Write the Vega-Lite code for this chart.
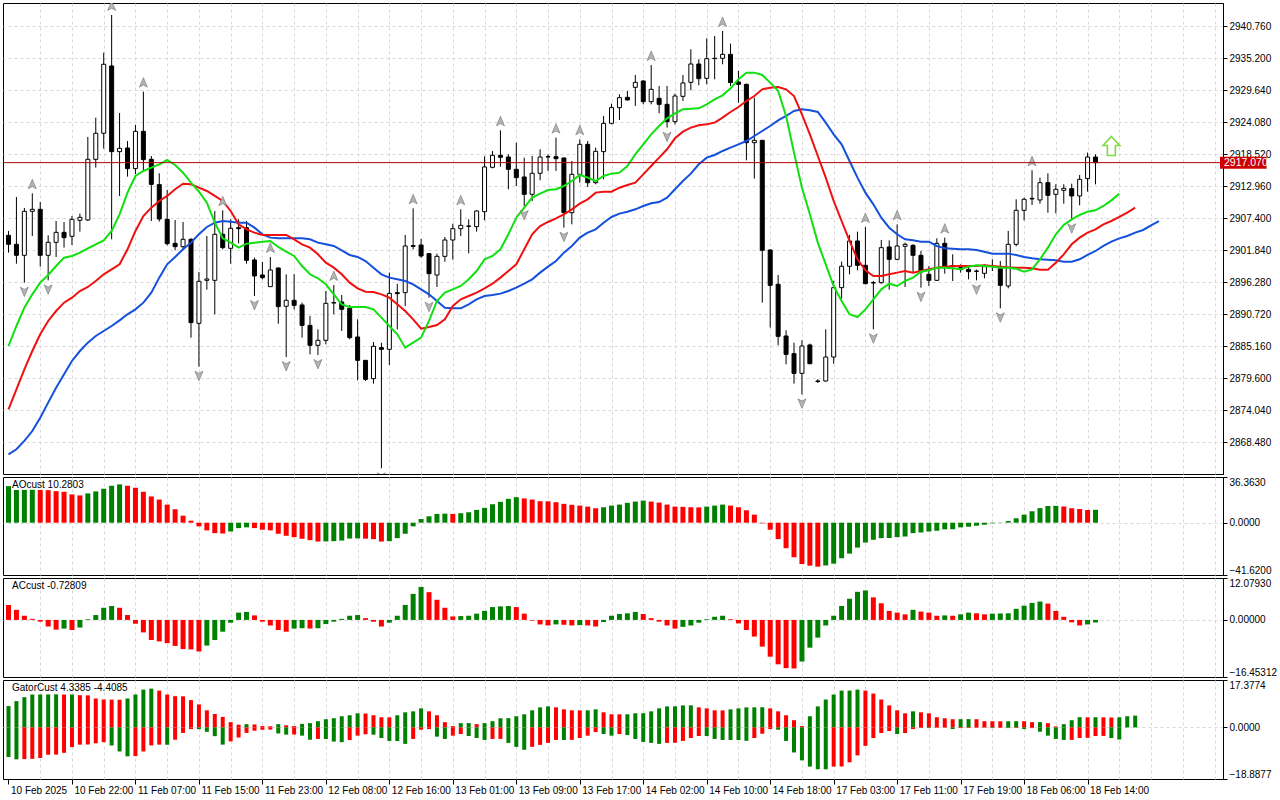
{
"$schema": "https://vega.github.io/schema/vega-lite/v6.json",
"background": "white",
"padding": {"left": 2, "top": 2, "right": 0, "bottom": 0},
"spacing": 3,
"bounds": "flush",
"resolve": {"scale": {"color": "independent"}},
"config": {
  "view": {"stroke": "black", "strokeWidth": 1},
  "axis": {"title": null, "labelFont": "Liberation Sans", "labelFontSize": 10, "labelColor": "#000000", "gridColor": "#d8d8d8", "gridDash": [3, 3], "gridWidth": 1, "domainColor": "#000000", "tickColor": "#000000", "tickSize": 4, "labelPadding": 2, "labelOverlap": false, "tickCount": 100}
},
"datasets": {
"candles": [
{"i":0,"o":2904.44,"c":2902.88,"h":2905.20,"l":2901.43},
{"i":1,"o":2902.88,"c":2900.97,"h":2911.10,"l":2899.52},
{"i":2,"o":2900.97,"c":2908.61,"h":2909.19,"l":2896.22,"f":"d"},
{"i":3,"o":2908.61,"c":2908.96,"h":2911.74,"l":2904.33,"f":"u"},
{"i":4,"o":2908.96,"c":2900.97,"h":2910.23,"l":2899.00},
{"i":5,"o":2900.97,"c":2903.23,"h":2904.44,"l":2896.62,"f":"d"},
{"i":6,"o":2903.23,"c":2904.96,"h":2906.93,"l":2900.68},
{"i":7,"o":2904.96,"c":2904.04,"h":2906.76,"l":2902.30},
{"i":8,"o":2904.27,"c":2907.22,"h":2907.80,"l":2902.76},
{"i":9,"o":2907.05,"c":2907.57,"h":2908.21,"l":2905.08},
{"i":10,"o":2907.11,"c":2917.65,"h":2921.53,"l":2906.93},
{"i":11,"o":2917.65,"c":2922.17,"h":2924.89,"l":2916.20},
{"i":12,"o":2922.17,"c":2934.16,"h":2936.18,"l":2919.50},
{"i":13,"o":2933.87,"c":2918.98,"h":2942.73,"l":2903.75,"f":"u"},
{"i":14,"o":2918.98,"c":2919.56,"h":2925.70,"l":2911.28},
{"i":15,"o":2919.62,"c":2916.03,"h":2920.83,"l":2914.64},
{"i":16,"o":2916.03,"c":2922.51,"h":2923.61,"l":2915.10},
{"i":17,"o":2922.51,"c":2917.59,"h":2929.41,"l":2915.62,"f":"u"},
{"i":18,"o":2917.65,"c":2913.30,"h":2918.23,"l":2906.93},
{"i":19,"o":2913.25,"c":2907.28,"h":2915.22,"l":2906.82},
{"i":20,"o":2907.22,"c":2902.99,"h":2912.32,"l":2902.70},
{"i":21,"o":2903.05,"c":2902.47,"h":2907.11,"l":2901.84},
{"i":22,"o":2902.47,"c":2903.75,"h":2906.76,"l":2902.01},
{"i":23,"o":2903.75,"c":2889.27,"h":2903.92,"l":2886.66},
{"i":24,"o":2889.15,"c":2896.45,"h":2898.07,"l":2881.62,"f":"d"},
{"i":25,"o":2896.62,"c":2896.85,"h":2904.33,"l":2895.00},
{"i":26,"o":2896.62,"c":2904.62,"h":2908.67,"l":2890.72},
{"i":27,"o":2904.62,"c":2902.30,"h":2908.79,"l":2902.01,"f":"u"},
{"i":28,"o":2902.18,"c":2905.66,"h":2907.22,"l":2899.52},
{"i":29,"o":2905.77,"c":2905.60,"h":2907.22,"l":2903.05},
{"i":30,"o":2905.77,"c":2900.10,"h":2906.93,"l":2899.52},
{"i":31,"o":2900.16,"c":2897.38,"h":2900.56,"l":2893.90,"f":"d"},
{"i":32,"o":2897.55,"c":2897.09,"h":2899.81,"l":2896.80},
{"i":33,"o":2895.52,"c":2898.42,"h":2900.68,"l":2895.52,"f":"u"},
{"i":34,"o":2898.77,"c":2892.05,"h":2898.82,"l":2889.09},
{"i":35,"o":2892.11,"c":2893.15,"h":2897.67,"l":2883.30,"f":"d"},
{"i":36,"o":2893.15,"c":2892.28,"h":2897.67,"l":2891.58},
{"i":37,"o":2892.34,"c":2888.80,"h":2892.74,"l":2886.66},
{"i":38,"o":2888.80,"c":2885.33,"h":2890.43,"l":2883.76},
{"i":39,"o":2885.33,"c":2886.20,"h":2888.11,"l":2883.65,"f":"d"},
{"i":40,"o":2886.20,"c":2892.63,"h":2894.77,"l":2885.50},
{"i":41,"o":2892.74,"c":2892.68,"h":2895.81,"l":2890.72,"f":"u"},
{"i":42,"o":2892.86,"c":2891.58,"h":2894.07,"l":2887.82},
{"i":43,"o":2891.76,"c":2886.66,"h":2892.34,"l":2886.37},
{"i":44,"o":2886.78,"c":2882.72,"h":2889.85,"l":2879.25},
{"i":45,"o":2882.72,"c":2879.42,"h":2882.78,"l":2879.13},
{"i":46,"o":2879.54,"c":2885.16,"h":2885.91,"l":2878.67},
{"i":47,"o":2884.92,"c":2884.63,"h":2885.79,"l":2863.96,"f":"d"},
{"i":48,"o":2884.63,"c":2894.36,"h":2897.96,"l":2881.91},
{"i":49,"o":2894.48,"c":2894.31,"h":2896.04,"l":2888.11},
{"i":50,"o":2894.48,"c":2902.59,"h":2904.50,"l":2892.16},
{"i":51,"o":2902.65,"c":2902.53,"h":2909.13,"l":2902.01,"f":"u"},
{"i":52,"o":2902.76,"c":2900.85,"h":2903.81,"l":2900.56},
{"i":53,"o":2901.26,"c":2897.78,"h":2901.31,"l":2893.61,"f":"d"},
{"i":54,"o":2897.55,"c":2900.79,"h":2901.26,"l":2895.46},
{"i":55,"o":2900.79,"c":2903.63,"h":2904.15,"l":2899.87},
{"i":56,"o":2903.63,"c":2905.60,"h":2906.47,"l":2900.21},
{"i":57,"o":2905.60,"c":2906.18,"h":2908.96,"l":2904.33,"f":"u"},
{"i":58,"o":2906.06,"c":2906.01,"h":2907.22,"l":2901.31},
{"i":59,"o":2905.95,"c":2908.67,"h":2908.79,"l":2905.08},
{"i":60,"o":2908.55,"c":2916.32,"h":2918.17,"l":2907.05},
{"i":61,"o":2916.26,"c":2918.34,"h":2919.10,"l":2916.08},
{"i":62,"o":2918.34,"c":2918.00,"h":2922.69,"l":2916.37,"f":"u"},
{"i":63,"o":2918.05,"c":2915.91,"h":2918.52,"l":2912.44},
{"i":64,"o":2915.91,"c":2914.46,"h":2920.54,"l":2913.01},
{"i":65,"o":2914.58,"c":2911.57,"h":2917.94,"l":2909.54,"f":"d"},
{"i":66,"o":2911.57,"c":2915.22,"h":2918.23,"l":2910.41},
{"i":67,"o":2915.22,"c":2918.05,"h":2919.39,"l":2914.00},
{"i":68,"o":2918.11,"c":2918.05,"h":2918.52,"l":2915.62},
{"i":69,"o":2918.11,"c":2917.76,"h":2921.41,"l":2915.62,"f":"u"},
{"i":70,"o":2917.88,"c":2908.38,"h":2917.94,"l":2905.77,"f":"d"},
{"i":71,"o":2908.38,"c":2915.04,"h":2917.36,"l":2906.35},
{"i":72,"o":2915.04,"c":2920.25,"h":2921.12,"l":2913.59,"f":"u"},
{"i":73,"o":2920.25,"c":2913.59,"h":2920.83,"l":2912.84},
{"i":74,"o":2913.59,"c":2919.04,"h":2919.68,"l":2913.30},
{"i":75,"o":2918.98,"c":2923.90,"h":2925.18,"l":2914.17},
{"i":76,"o":2923.90,"c":2926.63,"h":2927.32,"l":2923.73},
{"i":77,"o":2926.63,"c":2928.36,"h":2928.94,"l":2924.48},
{"i":78,"o":2928.42,"c":2927.96,"h":2929.52,"l":2927.90},
{"i":79,"o":2930.16,"c":2931.03,"h":2932.30,"l":2926.92},
{"i":80,"o":2931.26,"c":2927.67,"h":2931.38,"l":2927.20},
{"i":81,"o":2927.67,"c":2929.81,"h":2934.04,"l":2927.20,"f":"u"},
{"i":82,"o":2928.25,"c":2927.20,"h":2930.39,"l":2925.64},
{"i":83,"o":2927.20,"c":2924.19,"h":2930.39,"l":2923.15,"f":"d"},
{"i":84,"o":2924.19,"c":2928.65,"h":2929.06,"l":2923.73},
{"i":85,"o":2928.59,"c":2930.91,"h":2932.30,"l":2927.78},
{"i":86,"o":2931.03,"c":2934.21,"h":2936.76,"l":2929.64},
{"i":87,"o":2934.21,"c":2931.66,"h":2935.02,"l":2930.51},
{"i":88,"o":2931.72,"c":2935.14,"h":2938.67,"l":2930.68},
{"i":89,"o":2935.20,"c":2935.14,"h":2939.08,"l":2931.55},
{"i":90,"o":2935.20,"c":2935.89,"h":2939.95,"l":2934.16,"f":"u"},
{"i":91,"o":2935.89,"c":2930.97,"h":2937.75,"l":2930.39},
{"i":92,"o":2931.09,"c":2930.68,"h":2933.00,"l":2927.49},
{"i":93,"o":2930.68,"c":2920.54,"h":2930.80,"l":2917.47},
{"i":94,"o":2920.54,"c":2920.95,"h":2928.36,"l":2914.29},
{"i":95,"o":2920.95,"c":2901.84,"h":2921.01,"l":2892.74},
{"i":96,"o":2901.89,"c":2895.75,"h":2902.01,"l":2888.40},
{"i":97,"o":2895.93,"c":2886.89,"h":2897.55,"l":2885.33},
{"i":98,"o":2886.95,"c":2883.76,"h":2887.94,"l":2882.03},
{"i":99,"o":2883.88,"c":2880.46,"h":2885.79,"l":2878.67},
{"i":100,"o":2880.46,"c":2885.21,"h":2886.20,"l":2876.81,"f":"d"},
{"i":101,"o":2885.39,"c":2882.14,"h":2885.62,"l":2882.03},
{"i":102,"o":2879.13,"c":2879.07,"h":2879.42,"l":2878.78},
{"i":103,"o":2879.13,"c":2883.30,"h":2888.11,"l":2879.02},
{"i":104,"o":2883.30,"c":2895.35,"h":2896.51,"l":2882.14},
{"i":105,"o":2895.35,"c":2899.06,"h":2899.87,"l":2893.44},
{"i":106,"o":2899.06,"c":2903.46,"h":2904.50,"l":2897.67},
{"i":107,"o":2903.46,"c":2899.23,"h":2905.08,"l":2898.36},
{"i":108,"o":2899.23,"c":2896.04,"h":2905.89,"l":2895.93,"f":"u"},
{"i":109,"o":2896.22,"c":2896.16,"h":2896.51,"l":2888.11,"f":"d"},
{"i":110,"o":2896.22,"c":2902.30,"h":2903.63,"l":2896.04},
{"i":111,"o":2902.42,"c":2900.27,"h":2903.57,"l":2895.00},
{"i":112,"o":2900.27,"c":2902.59,"h":2906.35,"l":2900.10,"f":"u"},
{"i":113,"o":2902.53,"c":2902.88,"h":2903.17,"l":2895.46},
{"i":114,"o":2902.71,"c":2900.97,"h":2902.88,"l":2897.96},
{"i":115,"o":2900.97,"c":2898.07,"h":2901.72,"l":2895.35,"f":"d"},
{"i":116,"o":2897.67,"c":2896.62,"h":2899.11,"l":2895.64},
{"i":117,"o":2896.62,"c":2903.05,"h":2903.92,"l":2896.51},
{"i":118,"o":2903.05,"c":2899.11,"h":2904.04,"l":2897.78,"f":"u"},
{"i":119,"o":2899.17,"c":2899.06,"h":2901.14,"l":2896.51},
{"i":120,"o":2898.82,"c":2898.48,"h":2899.40,"l":2897.96},
{"i":121,"o":2898.53,"c":2898.13,"h":2899.11,"l":2896.80},
{"i":122,"o":2898.24,"c":2898.19,"h":2898.48,"l":2896.62,"f":"d"},
{"i":123,"o":2897.84,"c":2899.00,"h":2899.40,"l":2896.97},
{"i":124,"o":2899.11,"c":2899.06,"h":2900.27,"l":2898.24},
{"i":125,"o":2898.65,"c":2895.75,"h":2899.98,"l":2891.76,"f":"d"},
{"i":126,"o":2895.64,"c":2902.88,"h":2905.20,"l":2895.23},
{"i":127,"o":2902.88,"c":2908.79,"h":2910.70,"l":2902.53},
{"i":128,"o":2908.79,"c":2910.70,"h":2910.99,"l":2907.05},
{"i":129,"o":2910.87,"c":2910.76,"h":2915.74,"l":2909.71,"f":"u"},
{"i":130,"o":2910.58,"c":2913.59,"h":2914.46,"l":2909.94},
{"i":131,"o":2913.59,"c":2911.39,"h":2915.22,"l":2908.38},
{"i":132,"o":2911.57,"c":2912.44,"h":2913.30,"l":2908.26},
{"i":133,"o":2912.26,"c":2912.61,"h":2913.30,"l":2909.94},
{"i":134,"o":2912.55,"c":2911.28,"h":2913.42,"l":2907.22,"f":"d"},
{"i":135,"o":2911.28,"c":2914.17,"h":2914.93,"l":2909.66},
{"i":136,"o":2914.29,"c":2918.05,"h":2918.81,"l":2912.03},
{"i":137,"o":2918.05,"c":2917.07,"h":2918.52,"l":2913.30}
],
"alligator": [
{"i":0,"jaw":2866.39,"teeth":2874.21,"lips":2885.21},
{"i":1,"jaw":2867.26,"teeth":2877.68,"lips":2888.69},
{"i":2,"jaw":2868.71,"teeth":2881.16,"lips":2891.87},
{"i":3,"jaw":2870.44,"teeth":2884.34,"lips":2894.19},
{"i":4,"jaw":2872.76,"teeth":2887.24,"lips":2896.22},
{"i":5,"jaw":2875.37,"teeth":2889.56,"lips":2897.55},
{"i":6,"jaw":2877.97,"teeth":2891.29,"lips":2899.11},
{"i":7,"jaw":2880.29,"teeth":2892.74,"lips":2900.56},
{"i":8,"jaw":2882.61,"teeth":2893.61,"lips":2900.85},
{"i":9,"jaw":2884.34,"teeth":2894.77,"lips":2901.43},
{"i":10,"jaw":2885.79,"teeth":2895.46,"lips":2902.18},
{"i":11,"jaw":2886.95,"teeth":2896.51,"lips":2902.88},
{"i":12,"jaw":2887.82,"teeth":2897.67,"lips":2903.57},
{"i":13,"jaw":2888.69,"teeth":2898.53,"lips":2905.20},
{"i":14,"jaw":2889.67,"teeth":2899.40,"lips":2908.09},
{"i":15,"jaw":2890.72,"teeth":2902.01,"lips":2911.86},
{"i":16,"jaw":2891.58,"teeth":2905.20,"lips":2914.75},
{"i":17,"jaw":2892.74,"teeth":2907.80,"lips":2915.62},
{"i":18,"jaw":2894.48,"teeth":2909.25,"lips":2916.20},
{"i":19,"jaw":2897.09,"teeth":2910.41,"lips":2916.78},
{"i":20,"jaw":2899.40,"teeth":2911.28,"lips":2917.53},
{"i":21,"jaw":2900.68,"teeth":2912.44,"lips":2916.66},
{"i":22,"jaw":2902.01,"teeth":2913.42,"lips":2915.33},
{"i":23,"jaw":2903.17,"teeth":2913.30,"lips":2913.59},
{"i":24,"jaw":2904.62,"teeth":2912.72,"lips":2912.03},
{"i":25,"jaw":2905.89,"teeth":2912.15,"lips":2910.12},
{"i":26,"jaw":2906.64,"teeth":2911.28,"lips":2906.64},
{"i":27,"jaw":2906.93,"teeth":2910.41,"lips":2903.92},
{"i":28,"jaw":2906.82,"teeth":2908.67,"lips":2903.17},
{"i":29,"jaw":2906.64,"teeth":2906.35,"lips":2902.30},
{"i":30,"jaw":2906.64,"teeth":2905.48,"lips":2902.99},
{"i":31,"jaw":2905.77,"teeth":2904.91,"lips":2903.17},
{"i":32,"jaw":2904.62,"teeth":2904.50,"lips":2903.34},
{"i":33,"jaw":2904.04,"teeth":2904.50,"lips":2903.46},
{"i":34,"jaw":2903.92,"teeth":2904.50,"lips":2902.42},
{"i":35,"jaw":2903.92,"teeth":2904.50,"lips":2901.60},
{"i":36,"jaw":2903.92,"teeth":2903.75,"lips":2900.85},
{"i":37,"jaw":2903.92,"teeth":2902.88,"lips":2899.11},
{"i":38,"jaw":2903.75,"teeth":2902.30,"lips":2897.67},
{"i":39,"jaw":2903.17,"teeth":2901.14,"lips":2896.97},
{"i":40,"jaw":2902.88,"teeth":2899.69,"lips":2895.93},
{"i":41,"jaw":2902.59,"teeth":2898.82,"lips":2894.19},
{"i":42,"jaw":2901.84,"teeth":2897.67,"lips":2892.45},
{"i":43,"jaw":2901.03,"teeth":2896.22,"lips":2891.99},
{"i":44,"jaw":2900.68,"teeth":2895.23,"lips":2891.99},
{"i":45,"jaw":2899.98,"teeth":2894.65,"lips":2891.99},
{"i":46,"jaw":2898.82,"teeth":2894.60,"lips":2891.58},
{"i":47,"jaw":2897.67,"teeth":2894.19,"lips":2890.14},
{"i":48,"jaw":2897.09,"teeth":2893.61,"lips":2888.69},
{"i":49,"jaw":2896.80,"teeth":2892.45,"lips":2887.24},
{"i":50,"jaw":2896.51,"teeth":2891.29,"lips":2884.92},
{"i":51,"jaw":2895.93,"teeth":2889.85,"lips":2885.79},
{"i":52,"jaw":2895.06,"teeth":2888.22,"lips":2886.66},
{"i":53,"jaw":2894.19,"teeth":2888.51,"lips":2889.56},
{"i":54,"jaw":2893.03,"teeth":2888.86,"lips":2893.03},
{"i":55,"jaw":2891.87,"teeth":2889.85,"lips":2894.48},
{"i":56,"jaw":2891.76,"teeth":2892.16,"lips":2895.06},
{"i":57,"jaw":2891.76,"teeth":2893.32,"lips":2895.64},
{"i":58,"jaw":2892.45,"teeth":2893.90,"lips":2896.80},
{"i":59,"jaw":2893.32,"teeth":2894.48,"lips":2898.24},
{"i":60,"jaw":2893.90,"teeth":2895.23,"lips":2900.27},
{"i":61,"jaw":2894.07,"teeth":2896.04,"lips":2900.85},
{"i":62,"jaw":2894.31,"teeth":2897.09,"lips":2902.01},
{"i":63,"jaw":2894.77,"teeth":2898.24,"lips":2904.62},
{"i":64,"jaw":2895.35,"teeth":2899.40,"lips":2907.51},
{"i":65,"jaw":2896.04,"teeth":2902.01,"lips":2909.25},
{"i":66,"jaw":2896.80,"teeth":2904.62,"lips":2910.99},
{"i":67,"jaw":2897.96,"teeth":2906.06,"lips":2911.68},
{"i":68,"jaw":2899.00,"teeth":2906.76,"lips":2912.32},
{"i":69,"jaw":2899.98,"teeth":2907.40,"lips":2912.44},
{"i":70,"jaw":2901.43,"teeth":2908.09,"lips":2913.01},
{"i":71,"jaw":2902.59,"teeth":2908.96,"lips":2913.88},
{"i":72,"jaw":2904.04,"teeth":2909.94,"lips":2914.93},
{"i":73,"jaw":2904.91,"teeth":2910.70,"lips":2914.46},
{"i":74,"jaw":2905.48,"teeth":2911.86,"lips":2913.88},
{"i":75,"jaw":2906.64,"teeth":2912.03,"lips":2914.75},
{"i":76,"jaw":2907.63,"teeth":2912.03,"lips":2915.16},
{"i":77,"jaw":2908.21,"teeth":2912.72,"lips":2915.33},
{"i":78,"jaw":2908.55,"teeth":2913.19,"lips":2916.49},
{"i":79,"jaw":2908.96,"teeth":2913.59,"lips":2918.52},
{"i":80,"jaw":2909.54,"teeth":2915.04,"lips":2920.25},
{"i":81,"jaw":2910.00,"teeth":2916.49,"lips":2921.99},
{"i":82,"jaw":2910.23,"teeth":2917.94,"lips":2923.44},
{"i":83,"jaw":2910.99,"teeth":2919.39,"lips":2924.77},
{"i":84,"jaw":2912.44,"teeth":2921.30,"lips":2925.64},
{"i":85,"jaw":2913.88,"teeth":2922.46,"lips":2926.34},
{"i":86,"jaw":2915.16,"teeth":2923.15,"lips":2926.45},
{"i":87,"jaw":2916.78,"teeth":2923.56,"lips":2926.51},
{"i":88,"jaw":2917.94,"teeth":2923.73,"lips":2927.20},
{"i":89,"jaw":2918.40,"teeth":2924.02,"lips":2928.07},
{"i":90,"jaw":2919.10,"teeth":2924.89,"lips":2928.77},
{"i":91,"jaw":2919.68,"teeth":2925.87,"lips":2929.98},
{"i":92,"jaw":2920.25,"teeth":2926.74,"lips":2931.55},
{"i":93,"jaw":2920.83,"teeth":2927.78,"lips":2932.71},
{"i":94,"jaw":2921.70,"teeth":2928.65,"lips":2932.71},
{"i":95,"jaw":2922.57,"teeth":2929.81,"lips":2932.30},
{"i":96,"jaw":2923.44,"teeth":2930.10,"lips":2930.97},
{"i":97,"jaw":2924.42,"teeth":2930.22,"lips":2929.52},
{"i":98,"jaw":2925.18,"teeth":2929.81,"lips":2925.18},
{"i":99,"jaw":2926.05,"teeth":2928.65,"lips":2918.81},
{"i":100,"jaw":2926.34,"teeth":2925.47,"lips":2912.72},
{"i":101,"jaw":2926.16,"teeth":2921.99,"lips":2908.09},
{"i":102,"jaw":2925.87,"teeth":2918.23,"lips":2903.17},
{"i":103,"jaw":2924.02,"teeth":2914.46,"lips":2899.40},
{"i":104,"jaw":2921.99,"teeth":2910.41,"lips":2895.64},
{"i":105,"jaw":2920.25,"teeth":2906.93,"lips":2893.03},
{"i":106,"jaw":2917.36,"teeth":2903.46,"lips":2890.72},
{"i":107,"jaw":2914.46,"teeth":2900.27,"lips":2890.25},
{"i":108,"jaw":2911.86,"teeth":2898.36,"lips":2891.58},
{"i":109,"jaw":2909.83,"teeth":2897.38,"lips":2893.32},
{"i":110,"jaw":2907.51,"teeth":2897.38,"lips":2895.06},
{"i":111,"jaw":2905.77,"teeth":2897.67,"lips":2896.04},
{"i":112,"jaw":2904.62,"teeth":2897.96,"lips":2895.64},
{"i":113,"jaw":2903.75,"teeth":2898.24,"lips":2896.51},
{"i":114,"jaw":2903.57,"teeth":2897.96,"lips":2897.09},
{"i":115,"jaw":2903.34,"teeth":2898.24,"lips":2898.13},
{"i":116,"jaw":2903.34,"teeth":2898.53,"lips":2898.36},
{"i":117,"jaw":2902.59,"teeth":2898.82,"lips":2898.82},
{"i":118,"jaw":2902.18,"teeth":2899.00,"lips":2898.82},
{"i":119,"jaw":2902.13,"teeth":2899.06,"lips":2898.71},
{"i":120,"jaw":2902.01,"teeth":2899.11,"lips":2898.53},
{"i":121,"jaw":2902.01,"teeth":2899.11,"lips":2899.00},
{"i":122,"jaw":2901.89,"teeth":2899.11,"lips":2899.23},
{"i":123,"jaw":2901.60,"teeth":2899.23,"lips":2899.11},
{"i":124,"jaw":2901.26,"teeth":2899.11,"lips":2899.00},
{"i":125,"jaw":2901.26,"teeth":2899.00,"lips":2898.82},
{"i":126,"jaw":2901.26,"teeth":2898.88,"lips":2898.82},
{"i":127,"jaw":2901.03,"teeth":2898.82,"lips":2898.65},
{"i":128,"jaw":2900.68,"teeth":2898.82,"lips":2898.13},
{"i":129,"jaw":2900.45,"teeth":2898.71,"lips":2898.53},
{"i":130,"jaw":2900.27,"teeth":2898.48,"lips":2900.27},
{"i":131,"jaw":2900.21,"teeth":2898.48,"lips":2902.30},
{"i":132,"jaw":2900.10,"teeth":2899.69,"lips":2904.62},
{"i":133,"jaw":2899.87,"teeth":2901.14,"lips":2906.24},
{"i":134,"jaw":2899.87,"teeth":2902.88,"lips":2907.22},
{"i":135,"jaw":2900.27,"teeth":2904.04,"lips":2907.98},
{"i":136,"jaw":2901.03,"teeth":2904.91,"lips":2908.55},
{"i":137,"jaw":2901.72,"teeth":2905.48,"lips":2908.79},
{"i":138,"jaw":2902.59,"teeth":2906.35,"lips":2909.54},
{"i":139,"jaw":2903.34,"teeth":2906.93,"lips":2910.52},
{"i":140,"jaw":2903.92,"teeth":2907.63,"lips":2911.68},
{"i":141,"jaw":2904.33,"teeth":2908.38},
{"i":142,"jaw":2904.91,"teeth":2909.25},
{"i":143,"jaw":2905.37},
{"i":144,"jaw":2906.18},
{"i":145,"jaw":2906.93}
],
"signals": [{"i":139,"price":2919.96,"signal":"buy"}],
"ind": [
{"i":0,"ao":29.1,"aod":"u","ac":4.3,"acd":"d","gu":7.83,"gud":"u","gl":-10.84,"gld":"u"},
{"i":1,"ao":26.0,"aod":"u","ac":2.9,"acd":"d","gu":9.64,"gud":"u","gl":-11.69,"gld":"u"},
{"i":2,"ao":26.1,"aod":"u","ac":1.2,"acd":"d","gu":11.08,"gud":"u","gl":-11.6,"gld":"d"},
{"i":3,"ao":26.2,"aod":"u","ac":0.3,"acd":"d","gu":12.05,"gud":"u","gl":-11.5,"gld":"d"},
{"i":4,"ao":26.0,"aod":"d","ac":-0.5,"acd":"d","gu":12.08,"gud":"u","gl":-11.2,"gld":"d"},
{"i":5,"ao":25.9,"aod":"d","ac":-1.9,"acd":"d","gu":12.1,"gud":"u","gl":-10.0,"gld":"d"},
{"i":6,"ao":25.1,"aod":"d","ac":-2.8,"acd":"d","gu":12.12,"gud":"u","gl":-9.95,"gld":"d"},
{"i":7,"ao":24.6,"aod":"d","ac":-2.5,"acd":"u","gu":12.05,"gud":"d","gl":-9.3,"gld":"d"},
{"i":8,"ao":22.5,"aod":"d","ac":-2.9,"acd":"d","gu":12.08,"gud":"u","gl":-7.2,"gld":"d"},
{"i":9,"ao":21.7,"aod":"d","ac":-2.2,"acd":"u","gu":11.8,"gud":"d","gl":-6.3,"gld":"d"},
{"i":10,"ao":23.3,"aod":"u","ac":0.2,"acd":"u","gu":11.75,"gud":"d","gl":-6.25,"gld":"d"},
{"i":11,"ao":24.9,"aod":"u","ac":1.4,"acd":"u","gu":10.6,"gud":"d","gl":-5.8,"gld":"d"},
{"i":12,"ao":27.0,"aod":"u","ac":3.5,"acd":"u","gu":10.24,"gud":"d","gl":-5.4,"gld":"d"},
{"i":13,"ao":29.4,"aod":"u","ac":4.0,"acd":"u","gu":10.2,"gud":"d","gl":-6.6,"gld":"u"},
{"i":14,"ao":30.5,"aod":"u","ac":3.5,"acd":"d","gu":10.15,"gud":"d","gl":-8.8,"gld":"u"},
{"i":15,"ao":29.4,"aod":"d","ac":1.4,"acd":"d","gu":10.6,"gud":"u","gl":-10.6,"gld":"u"},
{"i":16,"ao":27.8,"aod":"d","ac":-1.1,"acd":"d","gu":12.05,"gud":"u","gl":-10.5,"gld":"d"},
{"i":17,"ao":24.6,"aod":"d","ac":-3.6,"acd":"d","gu":13.86,"gud":"u","gl":-8.8,"gld":"d"},
{"i":18,"ao":20.9,"aod":"d","ac":-5.8,"acd":"d","gu":14.22,"gud":"u","gl":-6.6,"gld":"d"},
{"i":19,"ao":18.4,"aod":"d","ac":-6.2,"acd":"d","gu":13.49,"gud":"d","gl":-6.3,"gld":"d"},
{"i":20,"ao":14.4,"aod":"d","ac":-6.7,"acd":"d","gu":12.05,"gud":"d","gl":-6.35,"gld":"u"},
{"i":21,"ao":10.7,"aod":"d","ac":-7.5,"acd":"d","gu":11.45,"gud":"d","gl":-4.5,"gld":"d"},
{"i":22,"ao":5.6,"aod":"d","ac":-8.4,"acd":"d","gu":11.4,"gud":"d","gl":-2.0,"gld":"d"},
{"i":23,"ao":1.6,"aod":"d","ac":-8.5,"acd":"d","gu":10.0,"gud":"d","gl":-0.6,"gld":"d"},
{"i":24,"ao":-2.9,"aod":"d","ac":-9.1,"acd":"d","gu":8.43,"gud":"d","gl":-0.65,"gld":"u"},
{"i":25,"ao":-6.1,"aod":"d","ac":-7.4,"acd":"u","gu":6.27,"gud":"d","gl":-1.6,"gld":"u"},
{"i":26,"ao":-8.3,"aod":"d","ac":-5.8,"acd":"u","gu":4.94,"gud":"d","gl":-3.2,"gld":"u"},
{"i":27,"ao":-8.6,"aod":"d","ac":-3.4,"acd":"u","gu":3.86,"gud":"d","gl":-6.3,"gld":"u"},
{"i":28,"ao":-7.0,"aod":"u","ac":-0.8,"acd":"u","gu":1.93,"gud":"d","gl":-5.1,"gld":"d"},
{"i":29,"ao":-4.3,"aod":"u","ac":2.1,"acd":"u","gu":1.0,"gud":"d","gl":-3.7,"gld":"d"},
{"i":30,"ao":-3.7,"aod":"u","ac":2.3,"acd":"u","gu":1.2,"gud":"u","gl":-2.0,"gld":"d"},
{"i":31,"ao":-4.3,"aod":"d","ac":1.3,"acd":"d","gu":1.1,"gud":"d","gl":-1.2,"gld":"d"},
{"i":32,"ao":-5.6,"aod":"d","ac":-0.5,"acd":"d","gu":0.5,"gud":"d","gl":-0.85,"gld":"d"},
{"i":33,"ao":-6.1,"aod":"d","ac":-1.6,"acd":"d","gu":0.45,"gud":"d","gl":-0.8,"gld":"d"},
{"i":34,"ao":-8.8,"aod":"d","ac":-2.9,"acd":"d","gu":1.2,"gud":"u","gl":-2.2,"gld":"u"},
{"i":35,"ao":-10.4,"aod":"d","ac":-3.4,"acd":"d","gu":0.8,"gud":"d","gl":-2.65,"gld":"u"},
{"i":36,"ao":-11.5,"aod":"d","ac":-2.5,"acd":"u","gu":0.48,"gud":"d","gl":-2.6,"gld":"d"},
{"i":37,"ao":-12.8,"aod":"d","ac":-2.4,"acd":"u","gu":1.3,"gud":"u","gl":-3.0,"gld":"u"},
{"i":38,"ao":-13.9,"aod":"d","ac":-2.5,"acd":"d","gu":1.57,"gud":"u","gl":-4.5,"gld":"u"},
{"i":39,"ao":-15.0,"aod":"d","ac":-2.4,"acd":"u","gu":2.29,"gud":"u","gl":-4.2,"gld":"d"},
{"i":40,"ao":-14.9,"aod":"u","ac":-1.2,"acd":"u","gu":3.01,"gud":"u","gl":-4.22,"gld":"u"},
{"i":41,"ao":-14.7,"aod":"u","ac":-0.5,"acd":"u","gu":3.37,"gud":"u","gl":-5.18,"gld":"u"},
{"i":42,"ao":-14.2,"aod":"u","ac":0.3,"acd":"u","gu":4.1,"gud":"u","gl":-5.4,"gld":"u"},
{"i":43,"ao":-12.6,"aod":"u","ac":1.2,"acd":"u","gu":4.46,"gud":"u","gl":-4.6,"gld":"d"},
{"i":44,"ao":-12.5,"aod":"u","ac":1.4,"acd":"u","gu":5.18,"gud":"u","gl":-3.0,"gld":"d"},
{"i":45,"ao":-12.7,"aod":"d","ac":0.5,"acd":"d","gu":5.1,"gud":"d","gl":-2.5,"gld":"d"},
{"i":46,"ao":-13.1,"aod":"d","ac":-0.5,"acd":"d","gu":4.46,"gud":"d","gl":-2.65,"gld":"u"},
{"i":47,"ao":-15.0,"aod":"d","ac":-1.9,"acd":"d","gu":3.73,"gud":"d","gl":-3.86,"gld":"u"},
{"i":48,"ao":-14.7,"aod":"u","ac":-0.8,"acd":"u","gu":3.7,"gud":"d","gl":-4.94,"gld":"u"},
{"i":49,"ao":-12.3,"aod":"u","ac":1.2,"acd":"u","gu":4.46,"gud":"u","gl":-4.96,"gld":"u"},
{"i":50,"ao":-8.8,"aod":"u","ac":4.3,"acd":"u","gu":5.54,"gud":"u","gl":-6.02,"gld":"u"},
{"i":51,"ao":-2.9,"aod":"u","ac":7.5,"acd":"u","gu":5.9,"gud":"u","gl":-4.22,"gld":"d"},
{"i":52,"ao":2.9,"aod":"u","ac":9.5,"acd":"u","gu":6.99,"gud":"u","gl":-0.84,"gld":"d"},
{"i":53,"ao":5.1,"aod":"u","ac":8.0,"acd":"d","gu":5.9,"gud":"d","gl":-0.6,"gld":"d"},
{"i":54,"ao":7.0,"aod":"u","ac":5.8,"acd":"d","gu":4.46,"gud":"d","gl":-3.37,"gld":"u"},
{"i":55,"ao":7.2,"aod":"u","ac":3.5,"acd":"d","gu":1.93,"gud":"d","gl":-4.22,"gld":"u"},
{"i":56,"ao":7.0,"aod":"d","ac":1.0,"acd":"d","gu":0.48,"gud":"d","gl":-3.01,"gld":"d"},
{"i":57,"ao":7.5,"aod":"u","ac":1.1,"acd":"u","gu":1.57,"gud":"u","gl":-2.41,"gld":"d"},
{"i":58,"ao":8.3,"aod":"u","ac":1.2,"acd":"u","gu":1.6,"gud":"u","gl":-3.13,"gld":"u"},
{"i":59,"ao":10.2,"aod":"u","ac":1.8,"acd":"u","gu":1.2,"gud":"d","gl":-3.86,"gld":"u"},
{"i":60,"ao":11.8,"aod":"u","ac":2.6,"acd":"u","gu":1.57,"gud":"u","gl":-4.58,"gld":"u"},
{"i":61,"ao":14.7,"aod":"u","ac":3.7,"acd":"u","gu":2.29,"gud":"u","gl":-4.22,"gld":"d"},
{"i":62,"ao":16.6,"aod":"u","ac":3.9,"acd":"u","gu":3.37,"gud":"u","gl":-4.2,"gld":"d"},
{"i":63,"ao":19.0,"aod":"u","ac":4.0,"acd":"u","gu":3.4,"gud":"u","gl":-5.66,"gld":"u"},
{"i":64,"ao":20.3,"aod":"u","ac":3.7,"acd":"d","gu":4.1,"gud":"u","gl":-7.11,"gld":"u"},
{"i":65,"ao":19.3,"aod":"d","ac":1.8,"acd":"d","gu":4.82,"gud":"u","gl":-8.19,"gld":"u"},
{"i":66,"ao":18.4,"aod":"d","ac":-0.2,"acd":"d","gu":6.27,"gud":"u","gl":-7.11,"gld":"d"},
{"i":67,"ao":17.1,"aod":"d","ac":-1.3,"acd":"d","gu":7.35,"gud":"u","gl":-6.39,"gld":"d"},
{"i":68,"ao":17.0,"aod":"d","ac":-1.6,"acd":"d","gu":7.71,"gud":"u","gl":-5.66,"gld":"d"},
{"i":69,"ao":16.3,"aod":"d","ac":-1.3,"acd":"u","gu":7.35,"gud":"d","gl":-4.58,"gld":"d"},
{"i":70,"ao":15.0,"aod":"d","ac":-1.4,"acd":"d","gu":6.63,"gud":"d","gl":-4.6,"gld":"u"},
{"i":71,"ao":14.2,"aod":"d","ac":-1.6,"acd":"d","gu":6.27,"gud":"d","gl":-4.55,"gld":"d"},
{"i":72,"ao":13.6,"aod":"d","ac":-1.5,"acd":"u","gu":6.25,"gud":"d","gl":-3.86,"gld":"d"},
{"i":73,"ao":12.8,"aod":"d","ac":-1.6,"acd":"d","gu":6.28,"gud":"u","gl":-3.01,"gld":"d"},
{"i":74,"ao":11.5,"aod":"d","ac":-1.9,"acd":"d","gu":6.63,"gud":"u","gl":-1.69,"gld":"d"},
{"i":75,"ao":12.3,"aod":"u","ac":-0.6,"acd":"u","gu":5.54,"gud":"d","gl":-2.41,"gld":"u"},
{"i":76,"ao":13.6,"aod":"u","ac":1.2,"acd":"u","gu":4.82,"gud":"d","gl":-3.01,"gld":"u"},
{"i":77,"ao":14.4,"aod":"u","ac":1.7,"acd":"u","gu":4.8,"gud":"d","gl":-2.41,"gld":"d"},
{"i":78,"ao":15.8,"aod":"u","ac":1.9,"acd":"u","gu":4.82,"gud":"u","gl":-2.77,"gld":"u"},
{"i":79,"ao":16.8,"aod":"u","ac":2.3,"acd":"u","gu":5.18,"gud":"u","gl":-4.22,"gld":"u"},
{"i":80,"ao":17.6,"aod":"u","ac":1.7,"acd":"d","gu":5.2,"gud":"u","gl":-5.3,"gld":"u"},
{"i":81,"ao":16.8,"aod":"d","ac":0.5,"acd":"d","gu":5.9,"gud":"u","gl":-5.66,"gld":"u"},
{"i":82,"ao":16.0,"aod":"d","ac":-0.5,"acd":"d","gu":6.99,"gud":"u","gl":-6.02,"gld":"u"},
{"i":83,"ao":14.4,"aod":"d","ac":-1.6,"acd":"d","gu":7.71,"gud":"u","gl":-5.66,"gld":"d"},
{"i":84,"ao":12.8,"aod":"d","ac":-2.5,"acd":"d","gu":7.73,"gud":"u","gl":-5.6,"gld":"d"},
{"i":85,"ao":12.6,"aod":"d","ac":-2.0,"acd":"u","gu":8.07,"gud":"u","gl":-4.94,"gld":"d"},
{"i":86,"ao":12.3,"aod":"d","ac":-1.6,"acd":"u","gu":8.1,"gud":"u","gl":-3.86,"gld":"d"},
{"i":87,"ao":12.2,"aod":"d","ac":-0.8,"acd":"u","gu":7.35,"gud":"d","gl":-3.13,"gld":"d"},
{"i":88,"ao":12.8,"aod":"u","ac":0.2,"acd":"u","gu":6.99,"gud":"d","gl":-3.15,"gld":"u"},
{"i":89,"ao":13.6,"aod":"u","ac":0.9,"acd":"u","gu":6.27,"gud":"d","gl":-4.22,"gld":"u"},
{"i":90,"ao":14.4,"aod":"u","ac":1.2,"acd":"u","gu":6.25,"gud":"d","gl":-4.58,"gld":"u"},
{"i":91,"ao":13.6,"aod":"d","ac":0.2,"acd":"d","gu":6.63,"gud":"u","gl":-4.6,"gld":"u"},
{"i":92,"ao":12.3,"aod":"d","ac":-1.0,"acd":"d","gu":6.99,"gud":"u","gl":-4.62,"gld":"u"},
{"i":93,"ao":9.9,"aod":"d","ac":-2.9,"acd":"d","gu":7.35,"gud":"u","gl":-4.9,"gld":"u"},
{"i":94,"ao":6.4,"aod":"d","ac":-4.8,"acd":"d","gu":7.37,"gud":"u","gl":-3.86,"gld":"d"},
{"i":95,"ao":-0.5,"aod":"d","ac":-7.7,"acd":"d","gu":7.4,"gud":"u","gl":-2.29,"gld":"d"},
{"i":96,"ao":-5.6,"aod":"d","ac":-10.6,"acd":"d","gu":6.99,"gud":"d","gl":-0.6,"gld":"d"},
{"i":97,"ao":-13.1,"aod":"d","ac":-12.8,"acd":"d","gu":5.9,"gud":"d","gl":-0.84,"gld":"u"},
{"i":98,"ao":-20.3,"aod":"d","ac":-13.9,"acd":"d","gu":4.46,"gud":"d","gl":-4.94,"gld":"u"},
{"i":99,"ao":-27.5,"aod":"d","ac":-14.0,"acd":"d","gu":2.65,"gud":"d","gl":-9.16,"gld":"u"},
{"i":100,"ao":-32.9,"aod":"d","ac":-12.0,"acd":"u","gu":0.48,"gud":"d","gl":-12.05,"gld":"u"},
{"i":101,"ao":-34.2,"aod":"d","ac":-8.0,"acd":"u","gu":4.1,"gud":"u","gl":-14.34,"gld":"u"},
{"i":102,"ao":-35.0,"aod":"d","ac":-5.1,"acd":"u","gu":7.71,"gud":"u","gl":-15.3,"gld":"u"},
{"i":103,"ao":-34.0,"aod":"u","ac":-1.6,"acd":"u","gu":10.24,"gud":"u","gl":-15.32,"gld":"u"},
{"i":104,"ao":-32.6,"aod":"u","ac":1.2,"acd":"u","gu":12.05,"gud":"u","gl":-14.34,"gld":"d"},
{"i":105,"ao":-28.3,"aod":"u","ac":4.0,"acd":"u","gu":13.49,"gud":"u","gl":-14.3,"gld":"d"},
{"i":106,"ao":-24.6,"aod":"u","ac":6.1,"acd":"u","gu":13.5,"gud":"u","gl":-12.77,"gld":"d"},
{"i":107,"ao":-19.8,"aod":"u","ac":8.1,"acd":"u","gu":13.86,"gud":"u","gl":-10.24,"gld":"d"},
{"i":108,"ao":-15.8,"aod":"u","ac":8.5,"acd":"u","gu":13.49,"gud":"d","gl":-6.75,"gld":"d"},
{"i":109,"ao":-13.6,"aod":"u","ac":6.5,"acd":"d","gu":12.41,"gud":"d","gl":-3.86,"gld":"d"},
{"i":110,"ao":-12.3,"aod":"u","ac":4.8,"acd":"d","gu":10.24,"gud":"d","gl":-2.05,"gld":"d"},
{"i":111,"ao":-12.2,"aod":"u","ac":2.6,"acd":"d","gu":8.07,"gud":"d","gl":-1.33,"gld":"d"},
{"i":112,"ao":-11.5,"aod":"u","ac":2.1,"acd":"d","gu":6.27,"gud":"d","gl":-2.41,"gld":"u"},
{"i":113,"ao":-11.0,"aod":"u","ac":1.6,"acd":"d","gu":5.18,"gud":"d","gl":-2.05,"gld":"d"},
{"i":114,"ao":-8.3,"aod":"u","ac":2.9,"acd":"u","gu":5.9,"gud":"u","gl":-0.6,"gld":"d"},
{"i":115,"ao":-7.8,"aod":"u","ac":2.4,"acd":"d","gu":5.54,"gud":"d","gl":-0.2,"gld":"d"},
{"i":116,"ao":-7.0,"aod":"u","ac":2.1,"acd":"d","gu":5.18,"gud":"d","gl":-0.24,"gld":"u"},
{"i":117,"ao":-6.4,"aod":"u","ac":1.2,"acd":"d","gu":3.73,"gud":"d","gl":-0.12,"gld":"d"},
{"i":118,"ao":-5.3,"aod":"u","ac":1.3,"acd":"u","gu":3.37,"gud":"d","gl":-0.1,"gld":"d"},
{"i":119,"ao":-5.2,"aod":"u","ac":1.2,"acd":"d","gu":3.01,"gud":"d","gl":-0.6,"gld":"u"},
{"i":120,"ao":-3.7,"aod":"u","ac":1.6,"acd":"u","gu":3.03,"gud":"u","gl":-0.24,"gld":"d"},
{"i":121,"ao":-3.2,"aod":"u","ac":2.1,"acd":"u","gu":3.05,"gud":"u","gl":-0.22,"gld":"d"},
{"i":122,"ao":-2.4,"aod":"u","ac":1.9,"acd":"d","gu":3.01,"gud":"d","gl":-0.12,"gld":"d"},
{"i":123,"ao":-1.6,"aod":"u","ac":1.6,"acd":"d","gu":2.29,"gud":"d","gl":-0.1,"gld":"d"},
{"i":124,"ao":-0.5,"aod":"u","ac":1.8,"acd":"u","gu":2.27,"gud":"d","gl":-0.24,"gld":"u"},
{"i":125,"ao":0.2,"aod":"u","ac":1.85,"acd":"u","gu":2.25,"gud":"d","gl":-0.2,"gld":"d"},
{"i":126,"ao":1.3,"aod":"u","ac":1.9,"acd":"u","gu":2.27,"gud":"u","gl":-0.24,"gld":"u"},
{"i":127,"ao":3.5,"aod":"u","ac":3.2,"acd":"u","gu":2.29,"gud":"u","gl":-0.2,"gld":"d"},
{"i":128,"ao":6.4,"aod":"u","ac":4.1,"acd":"u","gu":2.27,"gud":"d","gl":-0.6,"gld":"u"},
{"i":129,"ao":9.1,"aod":"u","ac":4.9,"acd":"u","gu":1.93,"gud":"d","gl":-0.24,"gld":"d"},
{"i":130,"ao":11.6,"aod":"u","ac":5.3,"acd":"u","gu":1.95,"gud":"u","gl":-1.57,"gld":"u"},
{"i":131,"ao":13.3,"aod":"u","ac":4.7,"acd":"d","gu":1.57,"gud":"d","gl":-3.01,"gld":"u"},
{"i":132,"ao":13.4,"aod":"u","ac":2.6,"acd":"d","gu":0.36,"gud":"d","gl":-4.22,"gld":"u"},
{"i":133,"ao":12.9,"aod":"d","ac":0.9,"acd":"d","gu":1.2,"gud":"u","gl":-4.58,"gld":"u"},
{"i":134,"ao":11.5,"aod":"d","ac":-0.7,"acd":"d","gu":2.65,"gud":"u","gl":-4.55,"gld":"d"},
{"i":135,"ao":10.9,"aod":"d","ac":-1.6,"acd":"d","gu":3.75,"gud":"u","gl":-3.86,"gld":"d"},
{"i":136,"ao":10.1,"aod":"d","ac":-1.3,"acd":"u","gu":3.7,"gud":"d","gl":-3.8,"gld":"d"},
{"i":137,"ao":10.28,"aod":"u","ac":-0.728,"acd":"u","gu":3.74,"gud":"u","gl":-3.13,"gld":"d"},
{"i":138,"gu":3.7,"gud":"d","gl":-3.1,"gld":"d"},
{"i":139,"gu":3.65,"gud":"d","gl":-3.86,"gld":"u"},
{"i":140,"gu":3.72,"gud":"u","gl":-4.41,"gld":"u"},
{"i":141,"gu":4.1,"gud":"u"},
{"i":142,"gu":4.34,"gud":"u"}
]
},
"vconcat": [
{
  "width": 1220, "height": 471,
  "layer": [
    {"data": {"name": "candles"},
     "mark": {"type": "rule", "color": "#000000", "strokeWidth": 1, "clip": true},
     "encoding": {
       "x": {"field": "i", "type": "quantitative", "scale": {"domain": [-0.0625, 152.4375], "nice": false, "zero": false},
             "axis": {"values": [4,8,12,16,20,24,28,32,36,40,44,48,52,56,60,64,68,72,76,80,84,88,92,96,100,104,108,112,116,120,124,128,132,136,140,144,148,152], "tickCount": 100, "labels": false, "ticks": false, "domain": false, "grid": true}},
       "y": {"field": "l", "type": "quantitative", "scale": {"domain": [2862.97, 2944.81], "nice": false, "zero": false},
             "axis": {"orient": "right", "values": [2868.48,2874.04,2879.6,2885.16,2890.72,2896.28,2901.84,2907.4,2912.96,2918.52,2924.08,2929.64,2935.2,2940.76], "tickCount": 100, "format": ".3f", "grid": true, "labelFlush": false, "labelOverlap": false}},
       "y2": {"field": "h"}
     }},
    {"data": {"name": "candles"},
     "mark": {"type": "bar", "size": 4, "stroke": "#000000", "strokeWidth": 1, "clip": true},
     "encoding": {
       "x": {"field": "i", "type": "quantitative"},
       "y": {"field": "o", "type": "quantitative"},
       "y2": {"field": "c"},
       "fill": {"condition": {"test": "datum.c < datum.o", "value": "#000000"}, "value": "#ffffff"}
     }},
    {"data": {"name": "alligator"},
     "transform": [{"fold": ["jaw", "teeth", "lips"], "as": ["line", "v"]}, {"filter": "isValid(datum.v)"}],
     "mark": {"type": "line", "strokeWidth": 2, "clip": true},
     "encoding": {
       "x": {"field": "i", "type": "quantitative"},
       "y": {"field": "v", "type": "quantitative"},
       "color": {"field": "line", "type": "nominal", "scale": {"domain": ["jaw", "teeth", "lips"], "range": ["#1450dc", "#f01010", "#10e010"]}, "legend": null}
     }},
    {"data": {"name": "candles"},
     "transform": [{"filter": "datum.f == 'u'"}],
     "mark": {"type": "point", "shape": "M0,-2.8L0.8,-0.9L0,-1.35L-0.8,-0.9Z", "size": 100, "filled": true, "fill": "#b4b4b4", "stroke": "#707070", "strokeWidth": 0.6, "opacity": 1, "clip": true},
     "encoding": {"x": {"field": "i", "type": "quantitative"}, "y": {"field": "h", "type": "quantitative"}}},
    {"data": {"name": "candles"},
     "transform": [{"filter": "datum.f == 'd'"}],
     "mark": {"type": "point", "shape": "M0,2.8L0.8,0.9L0,1.35L-0.8,0.9Z", "size": 100, "filled": true, "fill": "#b4b4b4", "stroke": "#707070", "strokeWidth": 0.6, "opacity": 1, "clip": true},
     "encoding": {"x": {"field": "i", "type": "quantitative"}, "y": {"field": "l", "type": "quantitative"}}},
    {"data": {"values": [{"price": 2917.07}]},
     "mark": {"type": "rule", "color": "#b40000", "strokeWidth": 1},
     "encoding": {"y": {"field": "price", "type": "quantitative"}}},
    {"data": {"values": [{"price": 2917.07}]},
     "mark": {"type": "rect", "fill": "#cc0000"},
     "encoding": {"x": {"datum": 152.69}, "x2": {"datum": 158.56}, "y": {"datum": 2916.03}, "y2": {"datum": 2918.11}}},
    {"data": {"values": [{"price": 2917.07}]},
     "mark": {"type": "text", "color": "#ffffff", "font": "Liberation Sans", "fontSize": 10.5, "align": "left", "baseline": "middle", "dx": 4},
     "encoding": {"x": {"datum": 152.69}, "y": {"field": "price", "type": "quantitative"}, "text": {"field": "price", "type": "quantitative", "format": ".3f"}}},
    {"data": {"name": "signals"},
     "mark": {"type": "point", "shape": "M0,-1L0.88,-0.05L0.42,-0.05L0.42,1L-0.42,1L-0.42,-0.05L-0.88,-0.05Z", "size": 360, "filled": true, "fill": "#ffffff", "stroke": "#7ddc3c", "strokeWidth": 1.6, "opacity": 1},
     "encoding": {"x": {"field": "i", "type": "quantitative"}, "y": {"field": "price", "type": "quantitative"}}}
  ]
},
{
  "width": 1220, "height": 98,
  "layer": [
    {"data": {"name": "ind"},
     "transform": [{"filter": "isValid(datum.ao)"}],
     "mark": {"type": "bar", "size": 5, "clip": true},
     "encoding": {
       "x": {"field": "i", "type": "quantitative", "scale": {"domain": [-0.0625, 152.4375], "nice": false, "zero": false},
             "axis": {"values": [4,8,12,16,20,24,28,32,36,40,44,48,52,56,60,64,68,72,76,80,84,88,92,96,100,104,108,112,116,120,124,128,132,136,140,144,148,152], "tickCount": 100, "labels": false, "ticks": false, "domain": false, "grid": true}},
       "y": {"field": "ao", "type": "quantitative", "scale": {"domain": [-41.62, 36.363], "nice": false, "zero": false},
             "axis": {"orient": "right", "values": [36.363, 0, -41.62], "tickCount": 100, "format": ".4f", "labelFlush": true, "grid": true, "gridOpacity": {"condition": {"test": "datum.value != 0", "value": 0}, "value": 1}}},
       "y2": {"datum": 0},
       "color": {"condition": {"test": "datum.aod == 'u'", "value": "#008000"}, "value": "#ff0000"}
     }},
    {"data": {"values": [{"name": "AOcust", "last": "10.2803"}]},
     "mark": {"type": "text", "text": "AOcust 10.2803", "font": "Liberation Sans", "fontSize": 10, "color": "#000000", "align": "left", "baseline": "middle", "dx": 4, "dy": 8},
     "encoding": {"x": {"datum": -0.0625}, "y": {"datum": 36.363}}}
  ]
},
{
  "width": 1220, "height": 99,
  "layer": [
    {"data": {"name": "ind"},
     "transform": [{"filter": "isValid(datum.ac)"}],
     "mark": {"type": "bar", "size": 5, "clip": true},
     "encoding": {
       "x": {"field": "i", "type": "quantitative", "scale": {"domain": [-0.0625, 152.4375], "nice": false, "zero": false},
             "axis": {"values": [4,8,12,16,20,24,28,32,36,40,44,48,52,56,60,64,68,72,76,80,84,88,92,96,100,104,108,112,116,120,124,128,132,136,140,144,148,152], "tickCount": 100, "labels": false, "ticks": false, "domain": false, "grid": true}},
       "y": {"field": "ac", "type": "quantitative", "scale": {"domain": [-16.45312, 12.0793], "nice": false, "zero": false},
             "axis": {"orient": "right", "values": [12.0793, 0, -16.45312], "tickCount": 100, "format": ".5f", "labelFlush": true, "grid": true, "gridOpacity": {"condition": {"test": "datum.value != 0", "value": 0}, "value": 1}}},
       "y2": {"datum": 0},
       "color": {"condition": {"test": "datum.acd == 'u'", "value": "#008000"}, "value": "#ff0000"}
     }},
    {"data": {"values": [{"name": "ACcust", "last": "-0.72809"}]},
     "mark": {"type": "text", "text": "ACcust -0.72809", "font": "Liberation Sans", "fontSize": 10, "color": "#000000", "align": "left", "baseline": "middle", "dx": 4, "dy": 8},
     "encoding": {"x": {"datum": -0.0625}, "y": {"datum": 12.0793}}}
  ]
},
{
  "width": 1220, "height": 99,
  "layer": [
    {"data": {"name": "ind"},
     "transform": [{"filter": "isValid(datum.gu)"}],
     "mark": {"type": "bar", "size": 4, "clip": true},
     "encoding": {
       "x": {"field": "i", "type": "quantitative", "scale": {"domain": [-0.0625, 152.4375], "nice": false, "zero": false},
             "axis": {"values": [0,4,8,12,16,20,24,28,32,36,40,44,48,52,56,60,64,68,72,76,80,84,88,92,96,100,104,108,112,116,120,124,128,132,136,140,144,148,152], "tickCount": 100,
                      "grid": true, "gridOpacity": {"condition": {"test": "datum.value == 0", "value": 0}, "value": 1},
                      "ticks": true, "tickSize": 5, "tickOpacity": {"condition": {"test": "datum.value % 8 != 0 || datum.value > 136", "value": 0}, "value": 1},
                      "domain": false, "labelAlign": "left", "labelOffset": 2, "labelPadding": 1, "labelFlush": false, "labelOverlap": false, "labelBound": false,
                      "labelExpr": "(datum.value % 8 == 0 && datum.value <= 136) ? ['10 Feb 2025','10 Feb 22:00','11 Feb 07:00','11 Feb 15:00','11 Feb 23:00','12 Feb 08:00','12 Feb 16:00','13 Feb 01:00','13 Feb 09:00','13 Feb 17:00','14 Feb 02:00','14 Feb 10:00','14 Feb 18:00','17 Feb 03:00','17 Feb 11:00','17 Feb 19:00','18 Feb 06:00','18 Feb 14:00'][datum.value / 8] : ''"}},
       "y": {"field": "gu", "type": "quantitative", "scale": {"domain": [-18.8877, 17.3774], "nice": false, "zero": false},
             "axis": {"orient": "right", "values": [17.3774, 0, -18.8877], "tickCount": 100, "format": ".4f", "labelFlush": true, "grid": true, "gridOpacity": {"condition": {"test": "datum.value != 0", "value": 0}, "value": 1}}},
       "y2": {"datum": 0},
       "color": {"condition": {"test": "datum.gud == 'u'", "value": "#008000"}, "value": "#ff0000"}
     }},
    {"data": {"name": "ind"},
     "transform": [{"filter": "isValid(datum.gl)"}],
     "mark": {"type": "bar", "size": 4, "clip": true},
     "encoding": {
       "x": {"field": "i", "type": "quantitative"},
       "y": {"field": "gl", "type": "quantitative"},
       "y2": {"datum": 0},
       "color": {"condition": {"test": "datum.gld == 'u'", "value": "#008000"}, "value": "#ff0000"}
     }},
    {"data": {"values": [{"name": "GatorCust", "last": "4.3385 -4.4085"}]},
     "mark": {"type": "text", "text": "GatorCust 4.3385 -4.4085", "font": "Liberation Sans", "fontSize": 10, "color": "#000000", "align": "left", "baseline": "middle", "dx": 4, "dy": 8},
     "encoding": {"x": {"datum": -0.0625}, "y": {"datum": 17.3774}}}
  ]
}
]
}
